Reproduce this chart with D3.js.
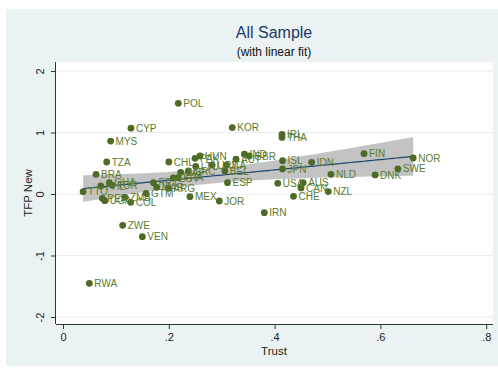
<!DOCTYPE html>
<html>
<head>
<meta charset="utf-8">
<script src="https://cdn.jsdelivr.net/npm/d3@7"></script>
<style>
  html, body { margin: 0; padding: 0; background: #ffffff; }
  svg { display: block; font-family: "Liberation Sans", Arial, sans-serif; }
</style>
</head>
<body>
<svg id="chart" width="498" height="371"></svg>
<script>
// Country codes, trust and TFP values
const countries = ["POL","KOR","IRL","THA","CYP","MYS","TZA","BRA","CHL","PAK",
  "HUN","LTU","URY","ITA","ZAF","GRC","BEL","EGY","FRA","PRT",
  "MAR","ARG","GTM","MEX","JOR","ESP","IRN","ZMB","COL","PER",
  "UGA","TTO","PHL","GHA","TUR","ZWE","VEN","RWA","AUT","IND",
  "GBR","ISL","JPN","IDN","USA","AUS","CAN","NZL","CHE","NLD",
  "DNK","FIN","NOR","SWE"];
const trust = [0.218,0.320,0.414,0.414,0.1285,0.090,0.0826,0.0624,0.200,0.2495,
  0.259,0.251,0.282,0.309,0.2225,0.237,0.306,0.2085,0.218,0.171,
  0.177,0.199,0.157,0.240,0.2955,0.311,0.3805,0.117,0.128,0.0743,
  0.079,0.038,0.0713,0.0875,0.093,0.1128,0.150,0.0498,0.327,0.343,
  0.352,0.415,0.415,0.470,0.406,0.454,0.450,0.5015,0.4357,0.5066,
  0.590,0.569,0.662,0.633];
const tfp = [1.475,1.08,0.97,0.92,1.07,0.86,0.52,0.32,0.52,0.58,
  0.618,0.447,0.47,0.47,0.353,0.374,0.374,0.26,0.265,0.184,
  0.109,0.093,0.011,-0.044,-0.114,0.184,-0.304,-0.054,-0.135,-0.07,
  -0.109,0.037,0.13,0.184,0.141,-0.509,-0.694,-1.452,0.565,0.646,
  0.618,0.541,0.407,0.515,0.174,0.184,0.098,0.04,-0.037,0.32,
  0.31,0.655,0.585,0.41];

const xTicks = [0, 0.2, 0.4, 0.6, 0.8];
const xTickLabels = ["0", ".2", ".4", ".6", ".8"];
const yTicks = [-2, -1, 0, 1, 2];
const yTickLabels = ["-2", "-1", "0", "1", "2"];
const tCrit = 2.007; // 97.5% quantile of t with n-2 = 52 df

const svg = d3.select("#chart");
const W = 498, H = 371;

// Graph region background
svg.append("rect").attr("x", 6).attr("y", 9).attr("width", W - 6).attr("height", 357)
  .attr("fill", "#eaf2f3");

// Plot region
const plot = { left: 56, right: 493, top: 62, bottom: 324 };
svg.append("rect").attr("x", plot.left).attr("y", plot.top)
  .attr("width", plot.right - plot.left).attr("height", plot.bottom - plot.top)
  .attr("fill", "#ffffff");

const x = d3.scaleLinear().domain([0, 0.8]).range([63, 486.2]);
const y = d3.scaleLinear().domain([-2, 2]).range([317, 71]);

// Horizontal grid lines
svg.append("g").selectAll("line").data(yTicks).join("line")
  .attr("x1", plot.left).attr("x2", plot.right)
  .attr("y1", d => y(d)).attr("y2", d => y(d))
  .attr("stroke", "#e6eef0").attr("stroke-width", 1.2);

// Linear fit with 95% confidence band for the mean
const data = countries.map((c, i) => ({ c, x: trust[i], y: tfp[i] }));
const n = data.length;
const xbar = d3.mean(trust), ybar = d3.mean(tfp);
const sxx = d3.sum(trust, v => (v - xbar) ** 2);
const sxy = d3.sum(data, d => (d.x - xbar) * (d.y - ybar));
const slope = sxy / sxx, intercept = ybar - slope * xbar;
const s = Math.sqrt(d3.sum(data, d => (d.y - intercept - slope * d.x) ** 2) / (n - 2));
const [xmin, xmax] = d3.extent(trust);
const grid = d3.range(0, 101).map(i => xmin + (xmax - xmin) * i / 100);
const fit = grid.map(v => {
  const yh = intercept + slope * v;
  const hw = tCrit * s * Math.sqrt(1 / n + (v - xbar) ** 2 / sxx);
  return { x: v, y: yh, lo: yh - hw, hi: yh + hw };
});

svg.append("path").datum(fit)
  .attr("d", d3.area().x(d => x(d.x)).y0(d => y(d.lo)).y1(d => y(d.hi)))
  .attr("fill", "#c3c3c3");
svg.append("path").datum(fit)
  .attr("d", d3.line().x(d => x(d.x)).y(d => y(d.y)))
  .attr("fill", "none").attr("stroke", "#1a476f").attr("stroke-width", 1.2);

// Axes
const yAxis = d3.axisLeft(y).tickValues(yTicks).tickSize(5).tickFormat((d, i) => yTickLabels[i]);
const gy = svg.append("g").attr("transform", `translate(${plot.left},0)`).call(yAxis);
gy.select(".domain").attr("d", `M-0.5,${plot.top}V${plot.bottom}`).attr("stroke", "#333");
gy.selectAll(".tick line").attr("stroke", "#333");
gy.selectAll(".tick text")
  .attr("x", 0).attr("dy", 0)
  .attr("transform", "translate(-12,0) rotate(-90)")
  .attr("text-anchor", "middle")
  .attr("font-size", 11).attr("font-family", "Liberation Sans, Arial, sans-serif")
  .attr("fill", "#222");

const xAxis = d3.axisBottom(x).tickValues(xTicks).tickSize(5).tickFormat((d, i) => xTickLabels[i]);
const gx = svg.append("g").attr("transform", `translate(0,${plot.bottom})`).call(xAxis);
gx.select(".domain").attr("d", `M${plot.left},0.5H${plot.right}`).attr("stroke", "#333");
gx.selectAll(".tick line").attr("stroke", "#333");
gx.selectAll(".tick text").attr("y", 9).attr("dy", "0.71em")
  .attr("font-size", 11).attr("font-family", "Liberation Sans, Arial, sans-serif")
  .attr("fill", "#222");

// Axis titles
svg.append("text").attr("x", 274).attr("y", 355).attr("text-anchor", "middle")
  .attr("font-size", 11.5).attr("fill", "#222").text("Trust");
svg.append("text").attr("transform", "translate(32,193) rotate(-90)")
  .attr("text-anchor", "middle").attr("font-size", 11.5).attr("fill", "#222").text("TFP New");

// Titles
svg.append("text").attr("x", 274).attr("y", 38).attr("text-anchor", "middle")
  .attr("font-size", 16).attr("fill", "#1e3a66").text("All Sample");
svg.append("text").attr("x", 274).attr("y", 56).attr("text-anchor", "middle")
  .attr("font-size", 12).attr("fill", "#111").text("(with linear fit)");

// Scatter points with country labels
const pts = svg.append("g");
pts.selectAll("circle").data(data).join("circle")
  .attr("cx", d => x(d.x)).attr("cy", d => y(d.y)).attr("r", 3.4)
  .attr("fill", "#4d6b26");
pts.selectAll("text").data(data).join("text")
  .attr("x", d => x(d.x) + 5).attr("y", d => y(d.y) + 3.6)
  .attr("font-size", 10).attr("fill", "#5a7a2e").text(d => d.c);
</script>
</body>
</html>
